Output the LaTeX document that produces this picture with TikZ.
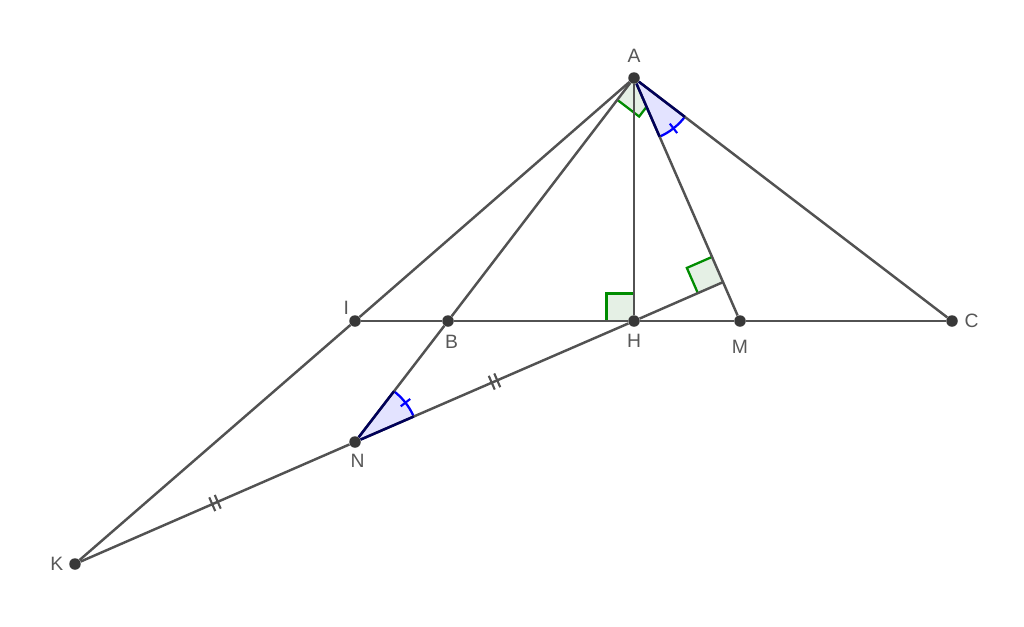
\documentclass[tikz,border=0pt]{standalone}
\usepackage{fontspec}
\setmainfont{Liberation Sans}
\usetikzlibrary{calc,angles,backgrounds,positioning}

\begin{document}
\begin{tikzpicture}[x=0.02cm, y=-0.02cm,
  dot/.style={circle, fill=black!78, inner sep=0pt, minimum size=2.3mm},
  seg/.style={draw=black!68, line width=1.4pt},
  lbl/.style={text=black!66, font=\fontsize{11}{13}\selectfont, inner sep=1.5pt},
  rightmark/.style={draw=green!55!black, fill=green!40!black!10, line width=1.3pt, angle radius=0.55cm},
  anglemark/.style={draw=blue, fill=blue!11, line width=1.3pt, angle radius=1.28cm},
  rimline/.style={draw=blue!35!black, line width=1.4pt},
  tick/.style={draw=black!68, line width=1.2pt},
]
\useasboundingbox (0,0) rectangle (1024,626);

% Points
\node[dot, label={[lbl, label distance=3.5pt]above:A}] (A) at (634,78) {};
\node[dot, label={[lbl, label distance=-1pt]135:I}] (I) at (355,321) {};
\node[dot, label={[lbl, label distance=3pt, xshift=2pt]below:B}] (B) at (448,321) {};
\node[dot, label={[lbl, label distance=2.5pt]below:H}] (H) at (634,321) {};
\node[dot, label={[lbl, label distance=5.5pt]below:M}] (M) at (740,321) {};
\node[dot, label={[lbl, label distance=2pt]right:C}] (C) at (952,321) {};
\node[dot, label={[lbl, label distance=1.5pt, xshift=1.5pt]below:N}] (N) at (355,442) {};
\node[dot, label={[lbl, label distance=1.5pt]left:K}] (K) at (75,564) {};
\coordinate (P) at ($(A)!(H)!(M)$);

% Angle marks
\begin{scope}[on background layer]
  \pic[rightmark] {right angle=B--A--C};
  \pic[rightmark] {right angle=A--H--I};
  \pic[rightmark] {right angle=A--P--H};
  \pic[anglemark] {angle=M--A--C};
  \pic[anglemark] {angle=H--N--B};
\end{scope}

% Lines
\draw[seg] (A) -- (I);
\draw[seg] (I) -- (K);
\draw[seg] (A) -- (B);
\draw[seg] (B) -- (N);
\draw[seg] (A) -- (H);
\draw[seg] (A) -- (M);
\draw[seg] (A) -- (C);
\draw[seg] (I) -- (B) -- (H) -- (M) -- (C);
\draw[seg] (K) -- (N);
\draw[seg] (N) -- (H);
\draw[seg] (H) -- (P);

% Sector edges and ticks
\foreach \v/\p/\q in {A/M/C, N/H/B} {
  \draw[rimline] (\v) -- ($(\v)!1.28cm!(\p)$);
  \draw[rimline] (\v) -- ($(\v)!1.28cm!(\q)$);
  \coordinate (mid) at ($($(\v)!1cm!(\p)$)!0.5!($(\v)!1cm!(\q)$)$);
  \draw[blue, line width=1.2pt] ($(\v)!1.16cm!(mid)$) -- ($(\v)!1.40cm!(mid)$);
}
\foreach \p/\q in {K/N, N/H} {
  \coordinate (m) at ($(\p)!0.5!(\q)$);
  \foreach \s in {-0.06cm, 0.06cm} {
    \coordinate (t) at ($(m)!\s!(\q)$);
    \draw[tick] ($(t)!0.15cm!90:(\q)$) -- ($(t)!-0.15cm!90:(\q)$);
  }
}
\end{tikzpicture}
\end{document}
